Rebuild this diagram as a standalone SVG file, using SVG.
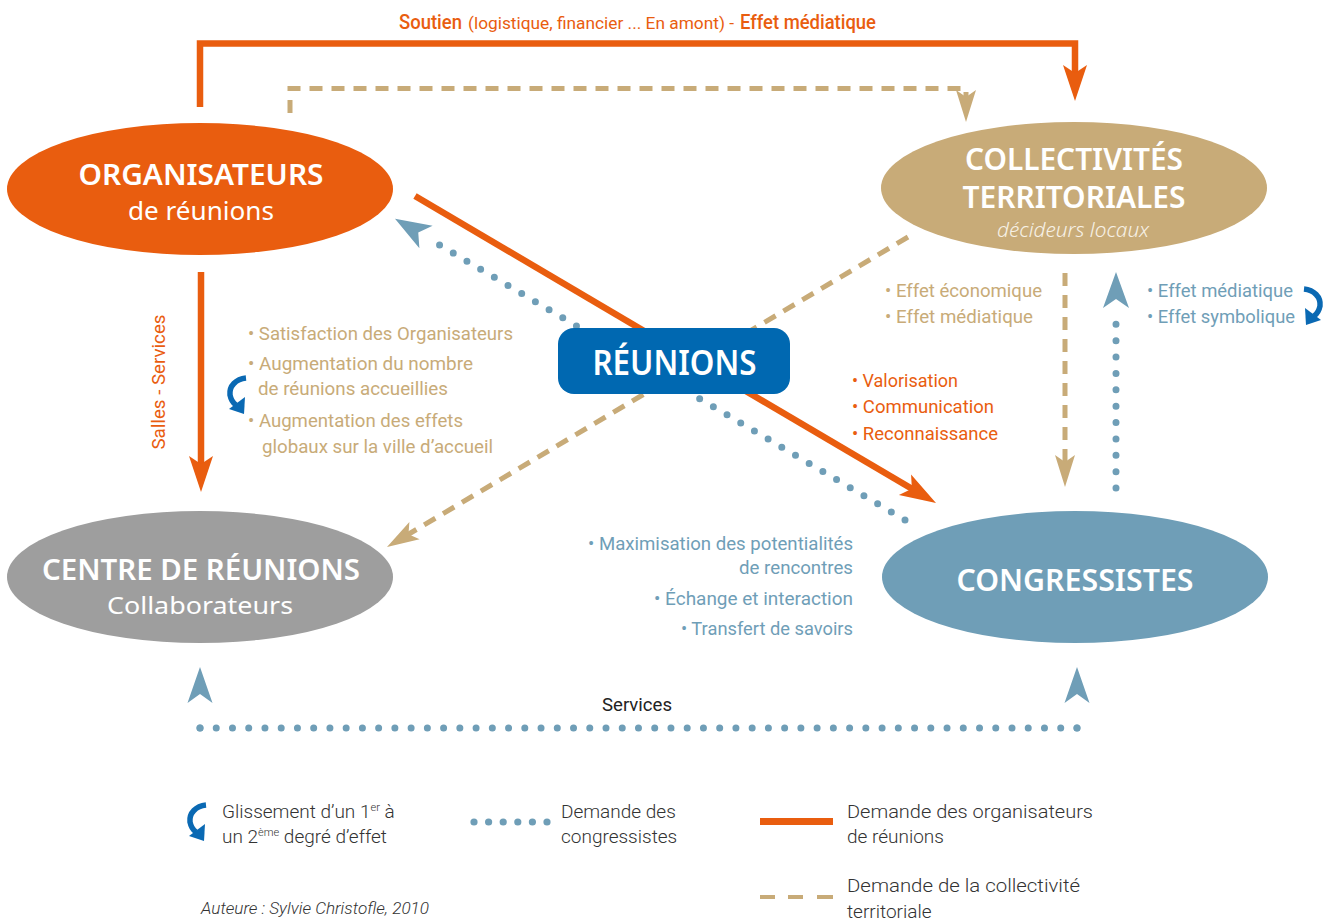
<svg xmlns="http://www.w3.org/2000/svg" width="1335" height="922" viewBox="0 0 1335 922">
<style>
.or{fill:#E95D0F}
.tn{fill:#C8AB78}
.bl{fill:#6F9EB7}
.t{font-family:Roboto,"Liberation Sans",sans-serif;}
.node{font-family:"Noto Sans","Liberation Sans",sans-serif;font-weight:600;fill:#fff;text-anchor:middle}
.nodeL{font-family:"Noto Sans","Liberation Sans",sans-serif;font-weight:400;fill:#fff;text-anchor:middle}
.lst{font-family:Roboto,"Liberation Sans",sans-serif;font-size:19px}
.leg{font-family:Roboto,"Liberation Sans",sans-serif;font-size:19px;font-weight:300;fill:#333}
.so{fill:none;stroke:#E95D0F;stroke-width:6.5}
.st{fill:none;stroke:#C8AB78;stroke-width:5;stroke-dasharray:13 9}
.sb{fill:none;stroke:#6F9EB7;stroke-width:7;stroke-linecap:round}
</style>
<defs>
<marker id="ao" markerUnits="userSpaceOnUse" viewBox="0 -12 36 24" markerWidth="36" markerHeight="24" refX="10" refY="0" orient="auto" overflow="visible">
<path d="M0,-12 L36,0 L0,12 L8,0 Z" fill="#E95D0F"/>
</marker>
<marker id="at" markerUnits="userSpaceOnUse" viewBox="0 -10 32 20" markerWidth="32" markerHeight="20" refX="10" refY="0" orient="auto" overflow="visible">
<path d="M0,-10 L32,0 L0,10 L7,0 Z" fill="#C8AB78"/>
</marker>
<marker id="ab" markerUnits="userSpaceOnUse" viewBox="0 -13 36 26" markerWidth="36" markerHeight="26" refX="0" refY="0" orient="auto" overflow="visible">
<path d="M0,-13 L36,0 L0,13 L9,0 Z" fill="#6F9EB7"/>
</marker>
<marker id="ab2" markerUnits="userSpaceOnUse" viewBox="0 -13 36 26" markerWidth="36" markerHeight="26" refX="-5" refY="0" orient="auto" overflow="visible">
<path d="M0,-12.5 L36,0 L0,12.5 L9,0 Z" fill="#6F9EB7"/>
</marker>
<g id="curl">
<path d="M19,2 C9,3 2,10 3,19 C4,24 6,27 9,29" fill="none" stroke="#0A69B3" stroke-width="5.5"/>
<polygon points="2,33 18,21 17,38" fill="#0A69B3"/>
</g>
</defs>
<rect width="1335" height="922" fill="#fff"/>

<g id="connectors">
<path class="so" d="M200,107 V43.5 H1075 V75" marker-end="url(#ao)"/>
<path class="st" d="M290,113 V88.5 H966 V100" marker-end="url(#at)"/>
<path class="so" d="M201,272 V466" marker-end="url(#ao)"/>
<path class="so" d="M415,196 L913.6,489.8" marker-end="url(#ao)"/>
<path class="sb" d="M905,520 L426,237" stroke-dasharray="0 15.9" marker-end="url(#ab)"/>
<path class="st" d="M908,237 L405.9,535.75" marker-end="url(#at)"/>
<path class="st" d="M1065,273 V465" marker-end="url(#at)"/>
<path class="sb" d="M1116,488 V308" stroke-dasharray="0 16.364" marker-end="url(#ab)"/>
<path class="sb" d="M200,728 H1077" stroke-dasharray="0 16.24"/>
<path class="sb" d="M200,728 V708" stroke-dasharray="0 20" marker-end="url(#ab2)"/>
<path class="sb" d="M1077,728 V708" stroke-dasharray="0 20" marker-end="url(#ab2)"/>
</g>

<g id="labels">
<text class="t" x="399" y="29" font-size="20" font-weight="500" fill="#E95D0F" textLength="63" lengthAdjust="spacingAndGlyphs">Soutien</text>
<text class="t" x="468" y="29" font-size="17" fill="#E95D0F" textLength="266" lengthAdjust="spacingAndGlyphs">(logistique, financier ... En amont) -</text>
<text class="t" x="740" y="29" font-size="20" font-weight="500" fill="#E95D0F" textLength="136" lengthAdjust="spacingAndGlyphs">Effet médiatique</text>
<text class="t" x="165" y="382" font-size="19" fill="#E95D0F" text-anchor="middle" transform="rotate(-90 165 382)" textLength="135" lengthAdjust="spacingAndGlyphs">Salles - Services</text>
<text class="t" x="602" y="711" font-size="18" fill="#222" textLength="70" lengthAdjust="spacingAndGlyphs">Services</text>

<g class="lst tn">
<text x="248" y="340" textLength="265" lengthAdjust="spacingAndGlyphs">• Satisfaction des Organisateurs</text>
<text x="248" y="370" textLength="225" lengthAdjust="spacingAndGlyphs">• Augmentation du nombre</text>
<text x="258" y="395" textLength="190" lengthAdjust="spacingAndGlyphs">de réunions accueillies</text>
<text x="248" y="427" textLength="215" lengthAdjust="spacingAndGlyphs">• Augmentation des effets</text>
<text x="262" y="453" textLength="231" lengthAdjust="spacingAndGlyphs">globaux sur la ville d’accueil</text>
<text x="885" y="297" textLength="157" lengthAdjust="spacingAndGlyphs">• Effet économique</text>
<text x="885" y="323" textLength="148" lengthAdjust="spacingAndGlyphs">• Effet médiatique</text>
</g>
<g class="lst bl">
<text x="1147" y="297" textLength="146" lengthAdjust="spacingAndGlyphs">• Effet médiatique</text>
<text x="1147" y="323" textLength="148" lengthAdjust="spacingAndGlyphs">• Effet symbolique</text>
<text x="588" y="550" textLength="265" lengthAdjust="spacingAndGlyphs">• Maximisation des potentialités</text>
<text x="739" y="574" textLength="114" lengthAdjust="spacingAndGlyphs">de rencontres</text>
<text x="654" y="605" textLength="199" lengthAdjust="spacingAndGlyphs">• Échange et interaction</text>
<text x="681" y="635" textLength="172" lengthAdjust="spacingAndGlyphs">• Transfert de savoirs</text>
</g>
<g class="lst or">
<text x="852" y="387" textLength="106" lengthAdjust="spacingAndGlyphs">• Valorisation</text>
<text x="852" y="413" textLength="142" lengthAdjust="spacingAndGlyphs">• Communication</text>
<text x="852" y="440" textLength="146" lengthAdjust="spacingAndGlyphs">• Reconnaissance</text>
</g>
<use href="#curl" x="227" y="376"/>
<use href="#curl" transform="translate(1323,287) scale(-1,1)"/>
</g>

<g id="node-organisateurs">
<ellipse cx="200" cy="189" rx="193" ry="66" fill="#E95D0F"/>
<text class="node" x="201" y="185" font-size="29" textLength="245" lengthAdjust="spacingAndGlyphs">ORGANISATEURS</text>
<text class="nodeL" x="201" y="220" font-size="25" textLength="146" lengthAdjust="spacingAndGlyphs">de réunions</text>
</g>
<g id="node-collectivites">
<ellipse cx="1074" cy="188" rx="193" ry="66" fill="#C8AB78"/>
<text class="node" x="1074" y="170" font-size="30" textLength="218" lengthAdjust="spacingAndGlyphs">COLLECTIVITÉS</text>
<text class="node" x="1074" y="208" font-size="30" textLength="223" lengthAdjust="spacingAndGlyphs">TERRITORIALES</text>
<text class="nodeL" x="1073" y="237" font-size="20" font-style="italic" style="fill:#F7F1E6;font-weight:300" textLength="152" lengthAdjust="spacingAndGlyphs">décideurs locaux</text>
</g>
<g id="node-centre">
<ellipse cx="200" cy="577" rx="193" ry="66" fill="#9E9E9E"/>
<text class="node" x="201" y="580" font-size="28" textLength="318" lengthAdjust="spacingAndGlyphs">CENTRE DE RÉUNIONS</text>
<text class="nodeL" x="200" y="614" font-size="24" textLength="186" lengthAdjust="spacingAndGlyphs">Collaborateurs</text>
</g>
<g id="node-congressistes">
<ellipse cx="1075" cy="577" rx="193" ry="66" fill="#6F9EB7"/>
<text class="node" x="1075" y="591" font-size="30" textLength="237" lengthAdjust="spacingAndGlyphs">CONGRESSISTES</text>
</g>
<g id="node-reunions">
<rect x="558" y="328" width="232" height="66" rx="16" fill="#0068B1"/>
<text class="node" x="674.5" y="375" font-size="34" textLength="164" lengthAdjust="spacingAndGlyphs">RÉUNIONS</text>
</g>

<g id="legend">
<use href="#curl" x="187" y="803"/>
<text class="leg" x="222" y="818">Glissement d’un 1<tspan font-size="11" dy="-7">er</tspan><tspan dy="7"> à</tspan></text>
<text class="leg" x="222" y="843">un 2<tspan font-size="11" dy="-7">ème</tspan><tspan dy="7"> degré d’effet</tspan></text>
<g class="bl">
<circle cx="474" cy="822" r="3.6"/><circle cx="488.6" cy="822" r="3.6"/><circle cx="503.2" cy="822" r="3.6"/><circle cx="517.8" cy="822" r="3.6"/><circle cx="532.4" cy="822" r="3.6"/><circle cx="547" cy="822" r="3.6"/>
</g>
<text class="leg" x="561" y="818">Demande des</text>
<text class="leg" x="561" y="843">congressistes</text>
<rect x="760" y="818" width="73" height="7" fill="#E95D0F"/>
<text class="leg" x="847" y="818" textLength="246" lengthAdjust="spacingAndGlyphs">Demande des organisateurs</text>
<text class="leg" x="847" y="843">de réunions</text>
<g class="tn"><rect x="760" y="895" width="15" height="4"/><rect x="788" y="895" width="15" height="4"/><rect x="817" y="895" width="16" height="4"/></g>
<text class="leg" x="847" y="892" textLength="233" lengthAdjust="spacingAndGlyphs">Demande de la collectivité</text>
<text class="leg" x="847" y="918">territoriale</text>
<text class="t" x="201" y="914" font-size="16" font-style="italic" font-weight="300" fill="#333" textLength="228" lengthAdjust="spacingAndGlyphs">Auteure : Sylvie Christofle, 2010</text>
</g>
</svg>
